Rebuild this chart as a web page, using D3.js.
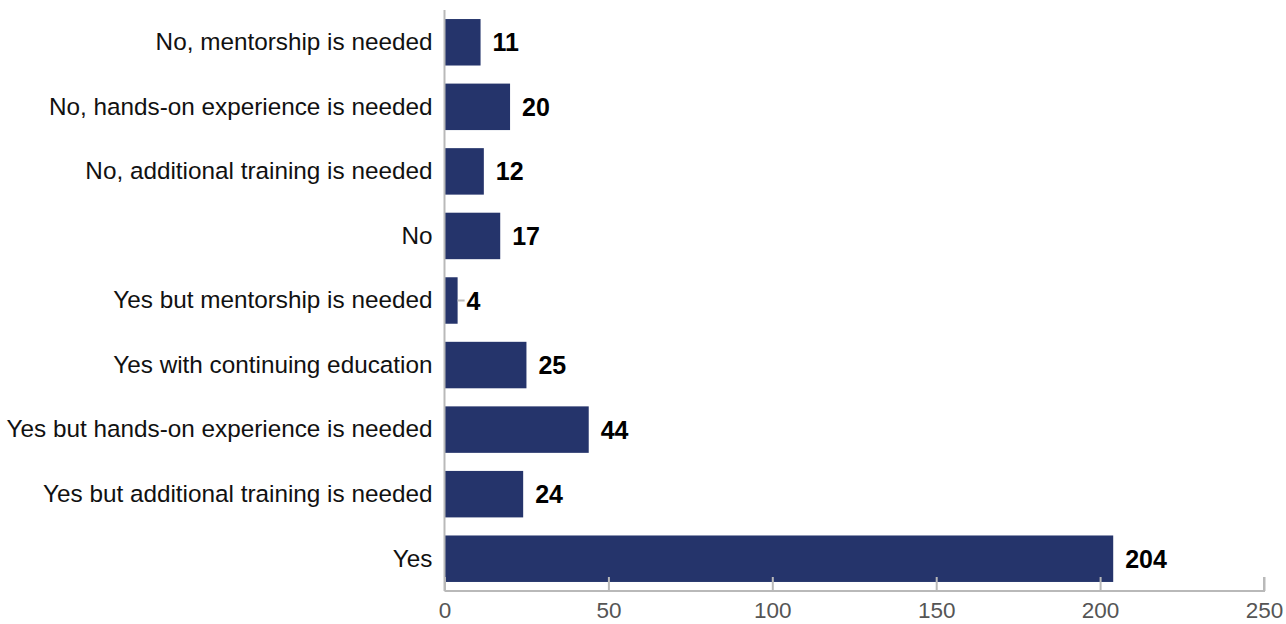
<!DOCTYPE html>
<html>
<head>
<meta charset="utf-8">
<script src="https://cdn.jsdelivr.net/npm/d3@7/dist/d3.min.js"></script>
<style>
  html, body { margin: 0; padding: 0; background: #fff; }
  svg { display: block; }
</style>
</head>
<body>
<svg id="chart" width="1286" height="624"></svg>
<script>
// Survey responses, listed top to bottom
const categories = [
  "No, mentorship is needed",
  "No, hands-on experience is needed",
  "No, additional training is needed",
  "No",
  "Yes but mentorship is needed",
  "Yes with continuing education",
  "Yes but hands-on experience is needed",
  "Yes but additional training is needed",
  "Yes"
];
const counts = [11, 20, 12, 17, 4, 25, 44, 24, 204];
const xTicks = [0, 50, 100, 150, 200, 250];

(function draw() {
  const svg = d3.select("#chart");
  const plotLeft = 444.5, plotRight = 1264, plotTop = 10, plotBottom = 591;

  const x = d3.scaleLinear().domain([0, 250]).range([plotLeft, plotRight]);
  const y = d3.scaleBand().domain(categories).range([plotTop, plotBottom])
    .paddingInner(0.28).paddingOuter(0.14);

  const font = "'Liberation Sans', Helvetica, Arial, sans-serif";
  const axisColor = "#b9b9b9";

  // Bars
  svg.append("g").selectAll("rect")
    .data(categories)
    .join("rect")
    .attr("x", x(0))
    .attr("y", d => y(d))
    .attr("width", (d, i) => x(counts[i]) - x(0))
    .attr("height", y.bandwidth())
    .attr("fill", "#25346b");

  // Bottom axis with upward ticks
  const xAxis = d3.axisBottom(x).tickValues(xTicks).tickSize(-14).tickPadding(11).tickFormat(d3.format("d"));
  const gx = svg.append("g").attr("transform", `translate(0,${plotBottom})`).call(xAxis);
  gx.select(".domain").attr("stroke", axisColor).attr("stroke-width", 2)
    .attr("d", `M${plotLeft},0H${plotRight}V-14`);
  gx.selectAll(".tick line").attr("stroke", axisColor).attr("stroke-width", 2);
  gx.selectAll(".tick text").attr("fill", "#555").style("font-family", font).style("font-size", "22.5px");

  // Left axis with category labels
  const yAxis = d3.axisLeft(y).tickSize(0).tickPadding(12);
  const gy = svg.append("g").attr("transform", `translate(${plotLeft},0)`).call(yAxis);
  gy.select(".domain").attr("stroke", axisColor).attr("stroke-width", 2)
    .attr("d", `M0,${plotTop}V${plotBottom}`);
  gy.selectAll(".tick text").attr("fill", "#111").style("font-family", font).style("font-size", "24.3px");

  // Value labels; very short bars get a short connector line
  const labels = svg.append("g");
  categories.forEach((c, i) => {
    const cy = y(c) + y.bandwidth() / 2;
    const xe = x(counts[i]);
    let lx = xe + 12;
    if (counts[i] < 5) {
      labels.append("line")
        .attr("x1", xe).attr("x2", xe + 7)
        .attr("y1", cy).attr("y2", cy)
        .attr("stroke", axisColor).attr("stroke-width", 2);
      lx = xe + 9;
    }
    labels.append("text")
      .attr("x", lx).attr("y", cy)
      .attr("dy", "0.36em")
      .attr("fill", "#000")
      .style("font-family", font)
      .style("font-size", "25px")
      .style("font-weight", "bold")
      .text(counts[i]);
  });
})();
</script>
</body>
</html>
